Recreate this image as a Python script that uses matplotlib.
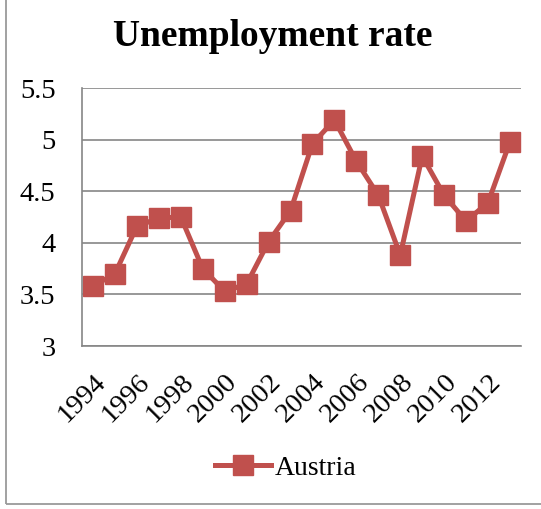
import matplotlib.pyplot as plt
from matplotlib.patches import Rectangle
from matplotlib.ticker import FormatStrFormatter

plt.rcParams["font.family"] = ["Liberation Serif", "DejaVu Serif"]

years = list(range(1994, 2014))
rate = [3.58, 3.70, 4.16, 4.24, 4.25, 3.75, 3.53, 3.60, 4.01, 4.31,
        4.96, 5.19, 4.79, 4.46, 3.88, 4.84, 4.46, 4.21, 4.39, 4.98]
label_years = years[::2]
y_ticks = [3, 3.5, 4, 4.5, 5, 5.5]

red = "#C0504D"
grid_grey = "#868686"

fig = plt.figure(figsize=(5.41, 5.09), dpi=100)
ax = fig.add_axes([82 / 541, 1 - 346 / 509, (521 - 82) / 541, (346 - 88) / 509])

ax.plot(years, rate, color=red, lw=3.6, marker="s", ms=14,
        mec=red, mfc=red, label="Austria", solid_joinstyle="round")

ax.set_xlim(1993.5, 2013.5)
ax.set_ylim(3, 5.5)
ax.set_yticks(y_ticks)
ax.yaxis.set_major_formatter(FormatStrFormatter("%g"))
ax.set_xticks(label_years)
ax.set_xticklabels([str(y) for y in label_years], rotation=45,
                   ha="right", va="top", rotation_mode="anchor")
ax.tick_params(axis="both", length=0, labelsize=20.5)
ax.tick_params(axis="y", pad=19)
ax.tick_params(axis="x", pad=17)

ax.grid(axis="y", color=grid_grey, lw=1.2)
ax.set_axisbelow(True)
for side in ["top", "right"]:
    ax.spines[side].set_visible(False)
for side in ["left", "bottom"]:
    ax.spines[side].set_color(grid_grey)
    ax.spines[side].set_linewidth(1.2)

fig.text(273 / 541, 1 - 36 / 509, "Unemployment rate", ha="center", va="center",
         fontsize=27, fontweight="bold")

fig.legend(loc="center", bbox_to_anchor=(286 / 541, 1 - 468 / 509), frameon=False,
           fontsize=20, handlelength=2.0, handletextpad=0.15)

# chart area border
fig.patches.append(Rectangle((6 / 541, 5.5 / 509), 1.2, 1.2, transform=fig.transFigure,
                             fill=False, ec="#9a9a9a", lw=1.3))

fig.savefig("out.png", dpi=100)
